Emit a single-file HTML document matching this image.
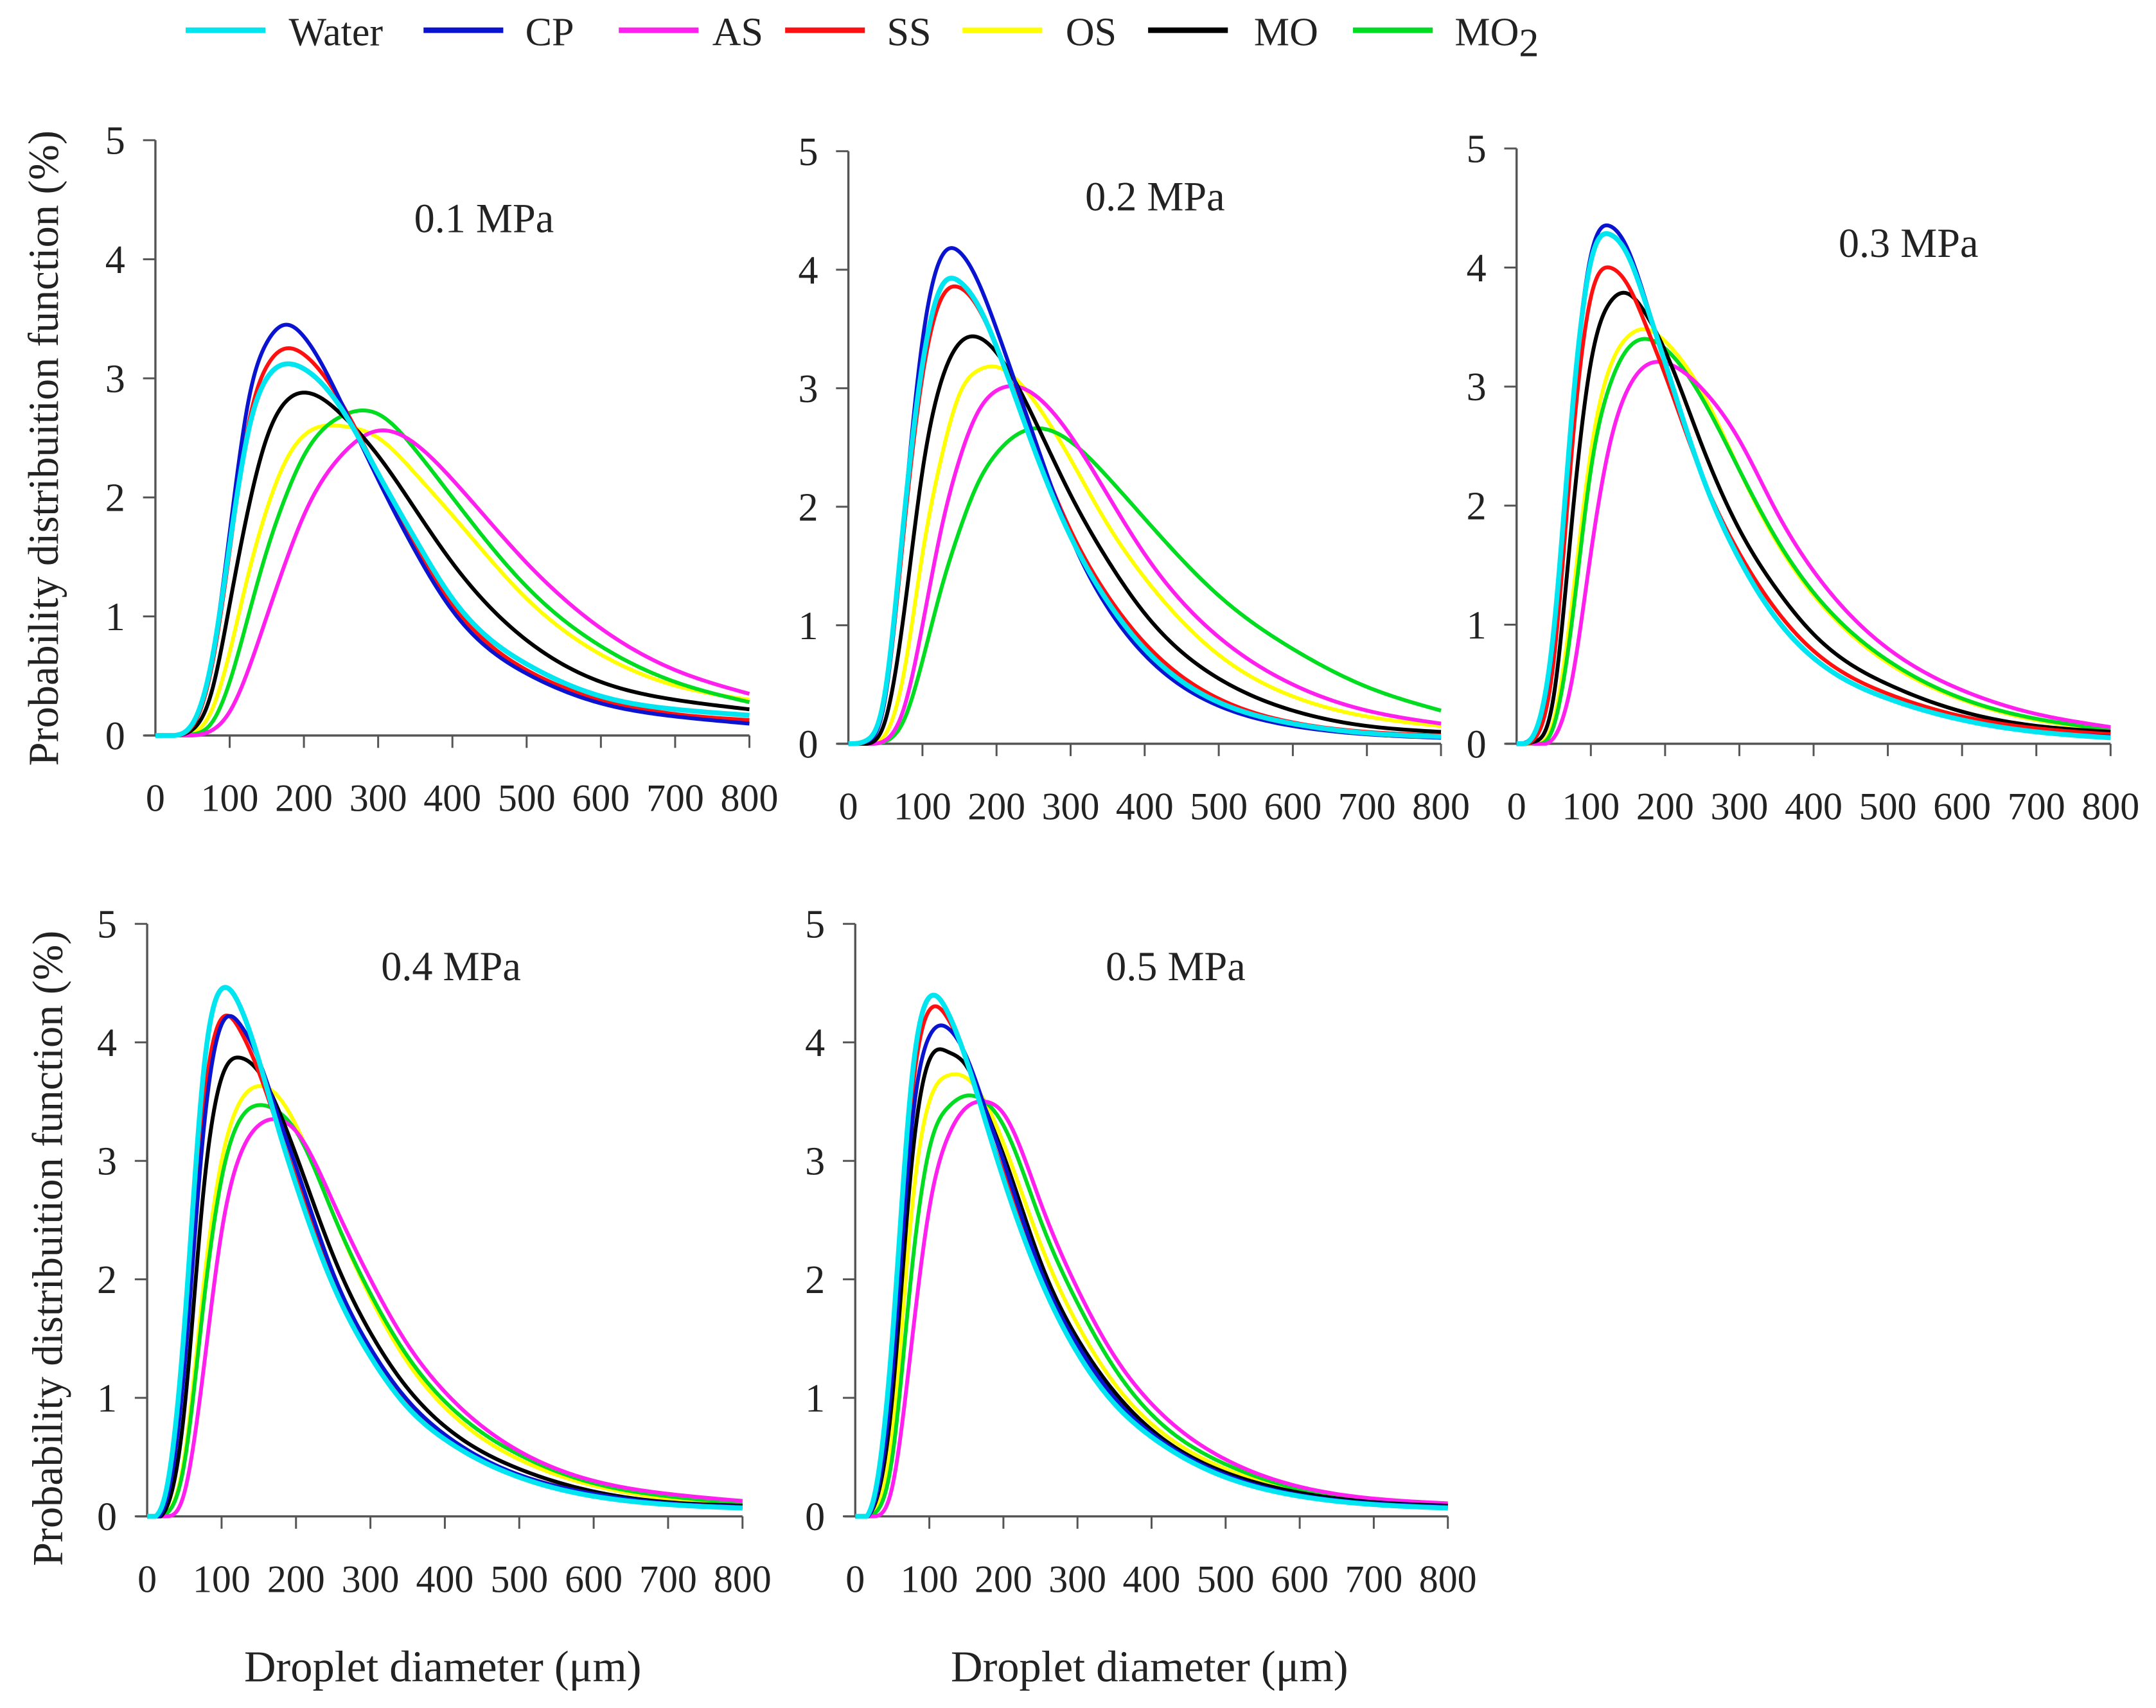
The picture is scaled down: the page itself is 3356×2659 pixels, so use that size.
<!DOCTYPE html>
<html><head><meta charset="utf-8"><style>
html,body{margin:0;padding:0;background:#fff;}
svg{display:block;}
text{font-family:"Liberation Serif",serif;fill:#222;}
</style></head><body>
<svg id="fig" width="3356" height="2659" viewBox="0 0 1568 1242.4" xmlns="http://www.w3.org/2000/svg">
<g id="legend"></g>
<g id="plots"></g>
<text transform="translate(42,326) rotate(-90)" text-anchor="middle" font-size="31">Probability distribuition function (%)</text>
<text transform="translate(45,908) rotate(-90)" text-anchor="middle" font-size="31">Probability distribuition function (%)</text>
<text x="322" y="1223" text-anchor="middle" font-size="32">Droplet diameter (μm)</text>
<text x="836" y="1223" text-anchor="middle" font-size="32">Droplet diameter (μm)</text>
</svg>
<script>
const xs = [0,25,50,75,100,125,150,175,200,250,300,350,400,500,600,700,800];
const seriesNames = ["Water","CP","AS","SS","OS","MO","MO2"];
const seriesColors = ["#00e5f0","#0a14d0","#ff20f0","#ff1010","#ffff00","#000000","#00dd20"];
const xTicks = [0,100,200,300,400,500,600,700,800];
const yTicks = [0,1,2,3,4,5];
const panelTitles = ["0.1 MPa","0.2 MPa","0.3 MPa","0.4 MPa","0.5 MPa"];

const p1Water=[0,0,0.1,0.6,1.6,2.55,3.0,3.12,3.08,2.75,2.2,1.65,1.15,0.6,0.33,0.22,0.17];
const p1CP=[0,0,0.1,0.6,1.7,2.8,3.3,3.45,3.35,2.8,2.15,1.55,1.05,0.52,0.27,0.16,0.1];
const p1AS=[0,0,0,0.04,0.2,0.55,1.0,1.45,1.85,2.35,2.56,2.45,2.15,1.45,0.9,0.55,0.35];
const p1SS=[0,0,0.08,0.55,1.55,2.6,3.1,3.25,3.2,2.8,2.2,1.6,1.1,0.55,0.3,0.18,0.13];
const p1OS=[0,0,0.02,0.2,0.7,1.35,1.9,2.3,2.52,2.6,2.5,2.2,1.85,1.15,0.68,0.42,0.3];
const p1MO=[0,0,0.05,0.35,1.1,1.9,2.5,2.8,2.88,2.7,2.35,1.9,1.45,0.8,0.45,0.3,0.22];
const p1MO2=[0,0,0.01,0.1,0.45,1.0,1.55,2.0,2.35,2.68,2.7,2.4,2.0,1.25,0.75,0.45,0.28];

const p2Water=[0,0.03,0.45,1.9,3.2,3.85,3.9,3.7,3.35,2.5,1.75,1.2,0.8,0.35,0.17,0.09,0.06];
const p2CP=[0,0.02,0.4,1.9,3.4,4.1,4.15,3.9,3.5,2.6,1.75,1.15,0.75,0.32,0.15,0.08,0.05];
const p2AS=[0,0,0.03,0.3,1.0,1.8,2.4,2.8,2.98,2.95,2.6,2.1,1.6,0.9,0.5,0.28,0.17];
const p2SS=[0,0.02,0.4,1.8,3.1,3.75,3.85,3.68,3.35,2.55,1.8,1.25,0.85,0.38,0.18,0.1,0.07];
const p2OS=[0,0,0.08,0.6,1.6,2.4,2.95,3.15,3.18,2.9,2.4,1.85,1.4,0.75,0.4,0.23,0.15];
const p2MO=[0,0,0.2,1.1,2.3,3.05,3.38,3.43,3.3,2.75,2.1,1.55,1.1,0.55,0.28,0.15,0.1];
const p2MO2=[0,0,0.02,0.2,0.7,1.3,1.8,2.2,2.45,2.66,2.55,2.25,1.9,1.25,0.8,0.48,0.28];

const p3Water=[0,0.1,0.95,2.8,4.05,4.28,4.1,3.68,3.2,2.25,1.55,1.05,0.72,0.38,0.2,0.1,0.05];
const p3CP=[0,0.1,0.9,2.8,4.1,4.35,4.15,3.7,3.2,2.25,1.55,1.05,0.72,0.38,0.2,0.1,0.06];
const p3AS=[0,0,0.05,0.55,1.6,2.5,2.98,3.18,3.2,2.98,2.55,1.95,1.45,0.8,0.45,0.25,0.14];
const p3SS=[0,0.05,0.7,2.5,3.75,4.0,3.85,3.5,3.1,2.25,1.6,1.12,0.78,0.42,0.23,0.13,0.08];
const p3OS=[0,0,0.2,1.2,2.45,3.15,3.42,3.48,3.38,2.95,2.3,1.7,1.25,0.68,0.37,0.2,0.12];
const p3MO=[0,0.02,0.4,1.9,3.2,3.7,3.78,3.6,3.3,2.5,1.8,1.3,0.92,0.5,0.27,0.15,0.1];
const p3MO2=[0,0,0.15,1.05,2.3,3.0,3.32,3.4,3.32,2.9,2.3,1.72,1.27,0.7,0.38,0.21,0.12];

const p4Water=[0,0.2,1.6,3.7,4.45,4.3,3.85,3.3,2.8,1.95,1.35,0.92,0.65,0.33,0.17,0.1,0.07];
const p4CP=[0,0.12,1.25,3.2,4.15,4.15,3.85,3.4,2.95,2.05,1.42,0.98,0.69,0.35,0.19,0.11,0.08];
const p4AS=[0,0,0.2,1.2,2.4,3.05,3.3,3.35,3.25,2.65,2.0,1.45,1.05,0.55,0.3,0.19,0.13];
const p4SS=[0,0.15,1.4,3.4,4.2,4.1,3.75,3.3,2.85,2.0,1.4,0.97,0.68,0.35,0.19,0.11,0.08];
const p4OS=[0,0.02,0.5,1.9,3.0,3.5,3.63,3.55,3.3,2.55,1.85,1.3,0.92,0.48,0.26,0.15,0.1];
const p4MO=[0,0.06,0.9,2.7,3.7,3.87,3.75,3.45,3.05,2.2,1.55,1.08,0.76,0.4,0.21,0.12,0.09];
const p4MO2=[0,0.02,0.45,1.75,2.85,3.35,3.47,3.42,3.25,2.55,1.88,1.35,0.97,0.52,0.28,0.17,0.11];

const p5Water=[0,0.15,1.5,3.6,4.38,4.25,3.85,3.35,2.85,2.0,1.38,0.95,0.67,0.33,0.17,0.1,0.07];
const p5CP=[0,0.1,1.2,3.2,4.05,4.12,3.88,3.45,3.0,2.08,1.45,1.0,0.7,0.35,0.18,0.11,0.08];
const p5AS=[0,0,0.25,1.4,2.6,3.2,3.45,3.5,3.4,2.65,1.92,1.35,0.95,0.48,0.25,0.15,0.11];
const p5SS=[0,0.12,1.4,3.45,4.27,4.2,3.85,3.35,2.9,2.02,1.4,0.97,0.68,0.34,0.18,0.1,0.08];
const p5OS=[0,0.04,0.7,2.5,3.5,3.72,3.7,3.5,3.15,2.3,1.62,1.12,0.78,0.4,0.21,0.13,0.1];
const p5MO=[0,0.08,1.0,2.9,3.85,3.92,3.8,3.45,3.05,2.15,1.5,1.05,0.73,0.37,0.2,0.12,0.09];
const p5MO2=[0,0.02,0.5,2.0,3.1,3.45,3.55,3.5,3.3,2.5,1.8,1.25,0.86,0.44,0.23,0.14,0.1];

const panelData = [
  [p1Water,p1CP,p1AS,p1SS,p1OS,p1MO,p1MO2],
  [p2Water,p2CP,p2AS,p2SS,p2OS,p2MO,p2MO2],
  [p3Water,p3CP,p3AS,p3SS,p3OS,p3MO,p3MO2],
  [p4Water,p4CP,p4AS,p4SS,p4OS,p4MO,p4MO2],
  [p5Water,p5CP,p5AS,p5SS,p5OS,p5MO,p5MO2]
];
const frames = [
  {x0:113,x1:545,y0:535,y1:102,tx:352,ty:169},
  {x0:617,x1:1048,y0:541,y1:110,tx:840,ty:153},
  {x0:1103,x1:1535,y0:541,y1:108,tx:1388,ty:187},
  {x0:107,x1:540,y0:1103,y1:672,tx:328,ty:713},
  {x0:622,x1:1053,y0:1103,y1:672,tx:855,ty:713}
];
const drawOrder = [4,6,2,5,3,1,0];
const NS="http://www.w3.org/2000/svg";
function mk(tag,attrs,parent){const e=document.createElementNS(NS,tag);for(const k in attrs)e.setAttribute(k,attrs[k]);parent.appendChild(e);return e;}
// natural cubic spline in data space
function interp(xv,yv){
  const n=xv.length,h=[],a=new Array(n).fill(0),b=new Array(n).fill(0),c=new Array(n).fill(0),r=new Array(n).fill(0),M=new Array(n).fill(0);
  for(let i=0;i<n-1;i++)h[i]=xv[i+1]-xv[i];
  b[0]=1;b[n-1]=1;
  for(let i=1;i<n-1;i++){a[i]=h[i-1];b[i]=2*(h[i-1]+h[i]);c[i]=h[i];r[i]=6*((yv[i+1]-yv[i])/h[i]-(yv[i]-yv[i-1])/h[i-1]);}
  for(let i=1;i<n;i++){const w=a[i]/b[i-1];b[i]-=w*c[i-1];r[i]-=w*r[i-1];}
  M[n-1]=r[n-1]/b[n-1];
  for(let i=n-2;i>=0;i--)M[i]=(r[i]-c[i]*M[i+1])/b[i];
  const out=[];
  for(let i=0;i<n-1;i++){
    const steps=20;
    for(let k=0;k<steps;k++){
      const t=k/steps,x=xv[i]+t*h[i],A=1-t,B=t;
      const y=A*yv[i]+B*yv[i+1]+((A*A*A-A)*M[i]+(B*B*B-B)*M[i+1])*h[i]*h[i]/6;
      out.push([x,y]);
    }
  }
  out.push([xv[n-1],yv[n-1]]);
  return out;
}
const plots=document.getElementById('plots');
frames.forEach((f,pi)=>{
  const g=mk('g',{},plots);
  
  
  const sx=v=>f.x0+(f.x1-f.x0)*v/800, sy=v=>f.y0+(f.y1-f.y0)*v/5;
  const ya=mk('line',{x1:f.x0,y1:sy(5),x2:f.x0,y2:f.y0,stroke:'#555','stroke-width':1.6},g);
  
  
  const xa=mk('line',{x1:f.x0-8,y1:f.y0,x2:f.x1,y2:f.y0,stroke:'#555','stroke-width':1.6},g);
  
  
  yTicks.forEach(t=>{
    mk('line',{x1:f.x0-9,y1:sy(t),x2:f.x0,y2:sy(t),stroke:'#555','stroke-width':1.4},g);
    const tl=mk('text',{x:f.x0-22,y:sy(t)+10,'text-anchor':'end','font-size':29},g);
    tl.textContent=t;
    
    
  });
  xTicks.forEach(t=>{
    if(t>0) mk('line',{x1:sx(t),y1:f.y0,x2:sx(t),y2:f.y0+9,stroke:'#555','stroke-width':1.4},g);
    const tl=mk('text',{x:sx(t),y:f.y0+55,'text-anchor':'middle','font-size':28},g);
    tl.textContent=t;
    
    
  });
  const title=mk('text',{x:f.tx,y:f.ty,'text-anchor':'middle','font-size':30},g);
  title.textContent=panelTitles[pi];
  
  
  const clip=v=>Math.min(5,Math.max(0,v));
  drawOrder.forEach(si=>{
    const vals=panelData[pi][si];
    const pts=interp(xs,vals).map(p=>sx(p[0]).toFixed(2)+","+sy(clip(p[1])).toFixed(2));
    const p=mk('polyline',{points:pts.join(" "),fill:'none',stroke:seriesColors[si],'stroke-width':si===0?3.6:2.8,'stroke-linejoin':'round'},g);
    
    
  });
});
const legend=document.getElementById('legend');
const legX=[135,308,450,571,700,835,984];
const legTX=[210,382,518,645,775,912,1058];
seriesNames.forEach((n,i)=>{
  const g=mk('g',{},legend);
  
  
  mk('line',{x1:legX[i],y1:22,x2:legX[i]+58,y2:22,stroke:seriesColors[i],'stroke-width':4},g);
  const t=mk('text',{x:legTX[i],y:33,'font-size':29},g);
  if(n==="MO2"){t.textContent="MO";const s=mk('tspan',{dy:8,'font-size':29},t);s.textContent="2";}
  else t.textContent=n;
});
</script>
</body></html>
